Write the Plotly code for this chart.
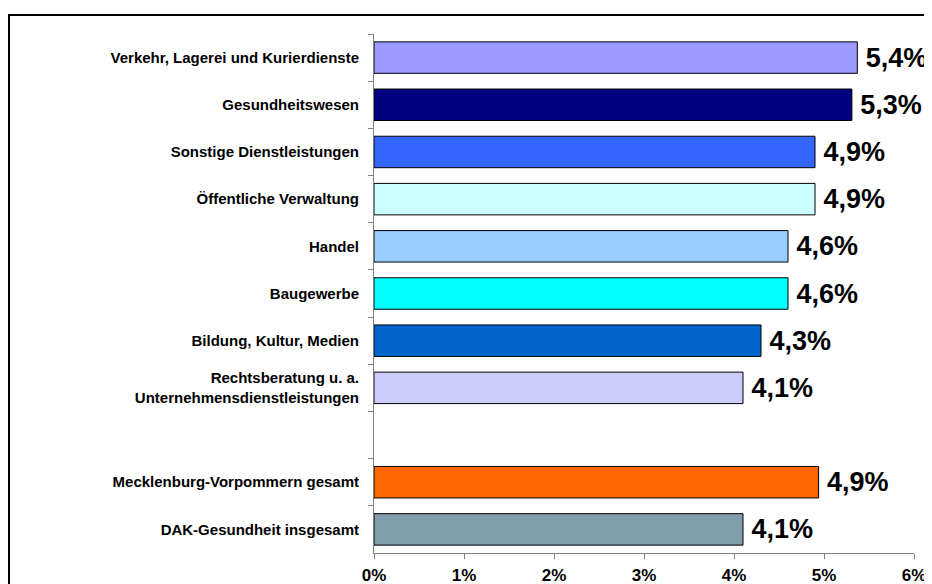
import plotly.graph_objects as go

categories = [
    "Verkehr, Lagerei und Kurierdienste",
    "Gesundheitswesen",
    "Sonstige Dienstleistungen",
    "Öffentliche Verwaltung",
    "Handel",
    "Baugewerbe",
    "Bildung, Kultur, Medien",
    "Rechtsberatung u. a.<br>Unternehmensdienstleistungen",
    "Mecklenburg-Vorpommern gesamt",
    "DAK-Gesundheit insgesamt",
]
values = [5.37, 5.31, 4.9, 4.9, 4.6, 4.6, 4.3, 4.1, 4.94, 4.1]
labels = ["5,4%", "5,3%", "4,9%", "4,9%", "4,6%", "4,6%", "4,3%", "4,1%", "4,9%", "4,1%"]
colors = ["#9999FF", "#000080", "#3366FF", "#CCFFFF", "#99CCFF", "#00FFFF",
          "#0066CC", "#CCCCFF", "#FF6600", "#7F9DAB"]
category_order = categories[:8] + [" "] + categories[8:]
x_ticks = [0, 1, 2, 3, 4, 5, 6]
x_ticktext = ["0%", "1%", "2%", "3%", "4%", "5%", "6%"]

# page has an 8px body margin; plot area should land at
# x 374..914, y 34..553 in the 932x584 window
W, H = 932, 584
L, R, T, B = 366, 26, 26, 39
pw, ph = W - L - R, H - T - B

fig = go.Figure(go.Bar(
    x=values,
    y=categories,
    orientation="h",
    marker=dict(color=colors, line=dict(color="#000000", width=1)),
    text=["\u2009" + t for t in labels],
    textposition="outside",
    textfont=dict(family="Liberation Sans, Arial", size=27, color="#000000", weight="bold"),
    cliponaxis=False,
))

fig.update_layout(
    width=W, height=H,
    margin=dict(l=L, r=R, t=T, b=B, autoexpand=False),
    paper_bgcolor="white", plot_bgcolor="white",
    bargap=0.333,
    showlegend=False,
    font=dict(family="Liberation Sans, Arial", color="#000000"),
    xaxis=dict(
        range=[0, 6], tickvals=x_ticks, ticktext=x_ticktext,
        automargin=False,
        showgrid=False, zeroline=False, showline=True, linecolor="#808080", linewidth=1,
        ticks="outside", ticklen=5, tickcolor="#808080",
        ticklabelstandoff=2,
        tickfont=dict(size=17, weight="bold", color="#000000"),
    ),
    yaxis=dict(
        type="category", categoryorder="array", categoryarray=category_order,
        autorange="reversed", automargin=False,
        showgrid=False, zeroline=False, showline=True, linecolor="#808080", linewidth=1,
        ticks="outside", ticklen=5, tickcolor="#808080", tickson="boundaries",
        ticklabelstandoff=11,
        tickfont=dict(size=15, weight="bold", color="#000000"),
    ),
    shapes=[dict(type="rect", xref="paper", yref="paper",
                 x0=(1 - L) / pw, x1=(W + 20 - L) / pw,
                 y0=(H - B - (H + 20)) / ph, y1=(H - B - 7) / ph,
                 line=dict(color="#000000", width=2), fillcolor="rgba(0,0,0,0)",
                 layer="above")],
)

fig.write_html("out.html")
